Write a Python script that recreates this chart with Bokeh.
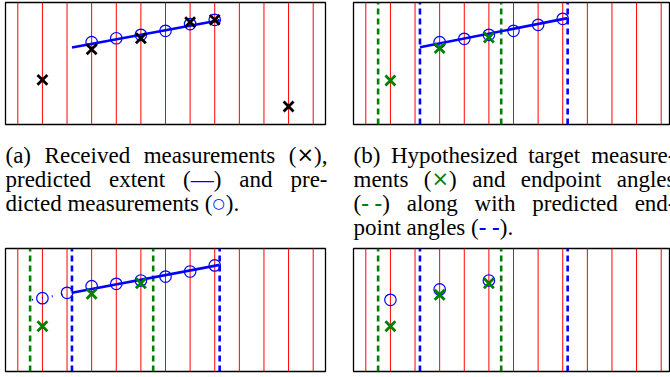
from bokeh.plotting import figure
from bokeh.models import Range1d, ColumnDataSource, Spacer
from bokeh.layouts import row, column
from bokeh.embed import file_html
from bokeh.resources import INLINE

# ---------------- data ----------------
# 13 angular cells, thin red lines at the cell centres
cell_centres = [0.5, 1.5, 2.5, 3.5, 4.5, 5.5, 6.5, 7.5, 8.5, 9.5, 10.5, 11.5, 12.5]

# (a) received measurements, predicted extent and predicted measurements
meas_x = [1.5, 3.5, 5.5, 7.5, 8.5, 11.5]
meas_y = [0.366, 0.617, 0.707, 0.839, 0.858, 0.148]
pred_x = [3.5, 4.5, 5.5, 6.5, 7.5, 8.5]
pred_y_a = [0.675, 0.707, 0.735, 0.768, 0.823, 0.858]
extent_x = [2.7, 8.7]
extent_y_a = [0.631, 0.855]

# (b) hypothesized target measurements and endpoint angles
hyp_x = [1.5, 3.5, 5.5]
hyp_y_b = [0.361, 0.626, 0.713]
endpoint_angles = [1.0, 6.0]
pred_endpoint_angles = [2.7, 8.7]
pred_y_b = [0.675, 0.702, 0.735, 0.768, 0.817, 0.866]
extent_y_b = [0.634, 0.872]

# (c)
hyp_y_c = [0.368, 0.632, 0.718]
pred_x_c = [1.5, 2.5, 3.5, 4.5, 5.5, 6.5, 7.5, 8.5]
pred_y_c = [0.596, 0.640, 0.694, 0.713, 0.740, 0.772, 0.813, 0.862]
extent_y_c = [0.640, 0.867]
extrap_x_c = [1.08, 2.7]
extrap_y_c = [0.583, 0.640]

# (d)
pred_y_d = [0.583, 0.667, 0.740]
hyp_y_d = [0.368, 0.624, 0.718]

N_CELLS = 13
RED, BLUE, GREEN = "#ff0000", "#0000ff", "#008000"


def panel(w, h, frame_w, ml, mr, mt, mb):
    p = figure(width=w, height=h,
               x_range=Range1d(0, N_CELLS * frame_w / 320.0), y_range=Range1d(0, 1),
               output_backend="svg", toolbar_location=None,
               x_axis_location=None, y_axis_location=None,
               min_border_left=ml, min_border_right=mr,
               min_border_top=mt, min_border_bottom=mb,
               outline_line_color="black", outline_line_width=1.3,
               background_fill_color="white", border_fill_color="white")
    p.grid.visible = False
    p.segment(x0=cell_centres, y0=0, x1=cell_centres, y1=1,
              line_color=RED, line_width=1, line_alpha=1.0)
    return p


def vlines(p, xs, color):
    p.segment(x0=xs, y0=0, x1=xs, y1=1, line_color=color, line_width=2.6,
              line_dash="6 4")


def circles(p, xs, ys):
    p.scatter(xs, ys, marker="circle", size=11.5, fill_color=None,
              line_color=BLUE, line_width=1.2)


def crosses(p, xs, ys, color):
    p.scatter(xs, ys, marker="x", size=14, line_color=color, line_width=2.8)


# panel (a)
pa = panel(327, 126, 320, 5, 2, 2, 2)
pa.line(extent_x, extent_y_a, line_color=BLUE, line_width=2.6)
circles(pa, pred_x, pred_y_a)
crosses(pa, meas_x, meas_y, "black")

# panel (b)
pb = panel(319, 126, 317, 2, 0, 2, 2)
vlines(pb, endpoint_angles, GREEN)
vlines(pb, pred_endpoint_angles, BLUE)
pb.line(extent_x, extent_y_b, line_color=BLUE, line_width=2.6)
circles(pb, pred_x, pred_y_b)
crosses(pb, hyp_x, hyp_y_b, GREEN)

# panel (c)
pc = panel(327, 127, 320, 5, 2, 2, 2)
vlines(pc, endpoint_angles, GREEN)
vlines(pc, pred_endpoint_angles, BLUE)
pc.line(extent_x, extent_y_c, line_color=BLUE, line_width=2.6)
pc.line(extrap_x_c, extrap_y_c, line_color=BLUE, line_width=2, line_dash="1 9")
circles(pc, pred_x_c, pred_y_c)
crosses(pc, hyp_x, hyp_y_c, GREEN)

# panel (d)
pd = panel(319, 127, 317, 2, 0, 2, 2)
vlines(pd, endpoint_angles, GREEN)
vlines(pd, pred_endpoint_angles, BLUE)
circles(pd, hyp_x, pred_y_d)
crosses(pd, hyp_x, hyp_y_d, GREEN)

# ---------------- captions ----------------
TIMES = {' ': 250, '(': 333, ')': 333, ',': 250, '.': 250, '-': 333,
         'a': 444, 'b': 500, 'c': 444, 'd': 500, 'e': 444, 'f': 333, 'g': 500,
         'h': 500, 'i': 278, 'j': 278, 'k': 500, 'l': 278, 'm': 778, 'n': 500,
         'o': 500, 'p': 500, 'q': 500, 'r': 333, 's': 389, 't': 278, 'u': 500,
         'v': 500, 'w': 722, 'x': 500, 'y': 500, 'z': 444, 'R': 667, 'H': 722,
         '\u2014': 1000}
FS = 23.0
KINDS = {  # font, size, style, advance per char (em)
    "serif": ("Liberation Serif", FS, "normal", None),
    "sym": ("DejaVu Sans", 21.0, "normal", 0.838),
    "circ": ("DejaVu Sans", 14.0, "normal", 0.95),
    "dash": ("Liberation Serif", FS, "bold", None),
}


def S(t):
    return (t, "black", "serif")


cap_a = [
    ([[S("(a)")], [S("Received")], [S("measurements")],
      [S("("), ("\u00d7", "black", "sym"), S("),")]], True),
    ([[S("predicted")], [S("extent")], [S("("), ("\u2014", BLUE, "serif"), S(")")],
      [S("and")], [S("pre-")]], True),
    ([[S("dicted")], [S("measurements")], [S("("), ("\u25cb", BLUE, "circ"), S(").")]], False),
]
cap_b = [
    ([[S("(b)")], [S("Hypothesized")], [S("target")], [S("measure-")]], True),
    ([[S("ments")], [S("("), ("\u00d7", GREEN, "sym"), S(")")], [S("and")],
      [S("endpoint")], [S("angles")]], True),
    ([[S("("), ("- -", GREEN, "dash"), S(")")], [S("along")], [S("with")],
      [S("predicted")], [S("end-")]], True),
    ([[S("point")], [S("angles")], [S("("), ("- -", BLUE, "dash"), S(").")]], False),
]


def seg_width(t, kind):
    font, size, style, adv = KINDS[kind]
    if adv is not None:
        return adv * size * len(t)
    return sum(TIMES.get(c, 500) for c in t) / 1000.0 * size


cx, cy, ct, cc, cf, cs, cst = [], [], [], [], [], [], []


def layout_caption(lines, left, width, first_baseline, leading):
    for li, (words, justify) in enumerate(lines):
        base = first_baseline + li * leading
        wws = [sum(seg_width(t, k) for t, _, k in w) for w in words]
        if justify:
            gap = (width - sum(wws)) / (len(words) - 1)
        else:
            gap = TIMES[' '] / 1000.0 * FS
        x = left
        for w, ww in zip(words, wws):
            sx = x
            for t, col, k in w:
                font, size, style, adv = KINDS[k]
                cx.append(sx); cy.append(base); ct.append(t); cc.append(col)
                cf.append(font); cs.append("%gpx" % size); cst.append(style)
                sx += seg_width(t, k)
            x += ww + gap


layout_caption(cap_a, 5, 322, 154.5, 24.0)
layout_caption(cap_b, 353, 322, 154.5, 24.0)

cap = figure(width=670, height=120, x_range=Range1d(0, 670), y_range=Range1d(246, 126),
             output_backend="svg", toolbar_location=None,
             x_axis_location=None, y_axis_location=None,
             min_border=0, outline_line_color=None,
             background_fill_color="white", border_fill_color="white")
cap.grid.visible = False
cap.text(x="x", y="y", text="text", text_color="color", text_font="font",
         text_font_size="size", text_font_style="style", text_align="left",
         text_baseline="alphabetic",
         source=ColumnDataSource(dict(x=cx, y=cy, text=ct, color=cc, font=cf,
                                      size=cs, style=cst)))

layout = column(row(pa, Spacer(width=24, height=126), pb),
                cap,
                row(pc, Spacer(width=24, height=127), pd))

open("out.html", "w").write(file_html(layout, INLINE))
